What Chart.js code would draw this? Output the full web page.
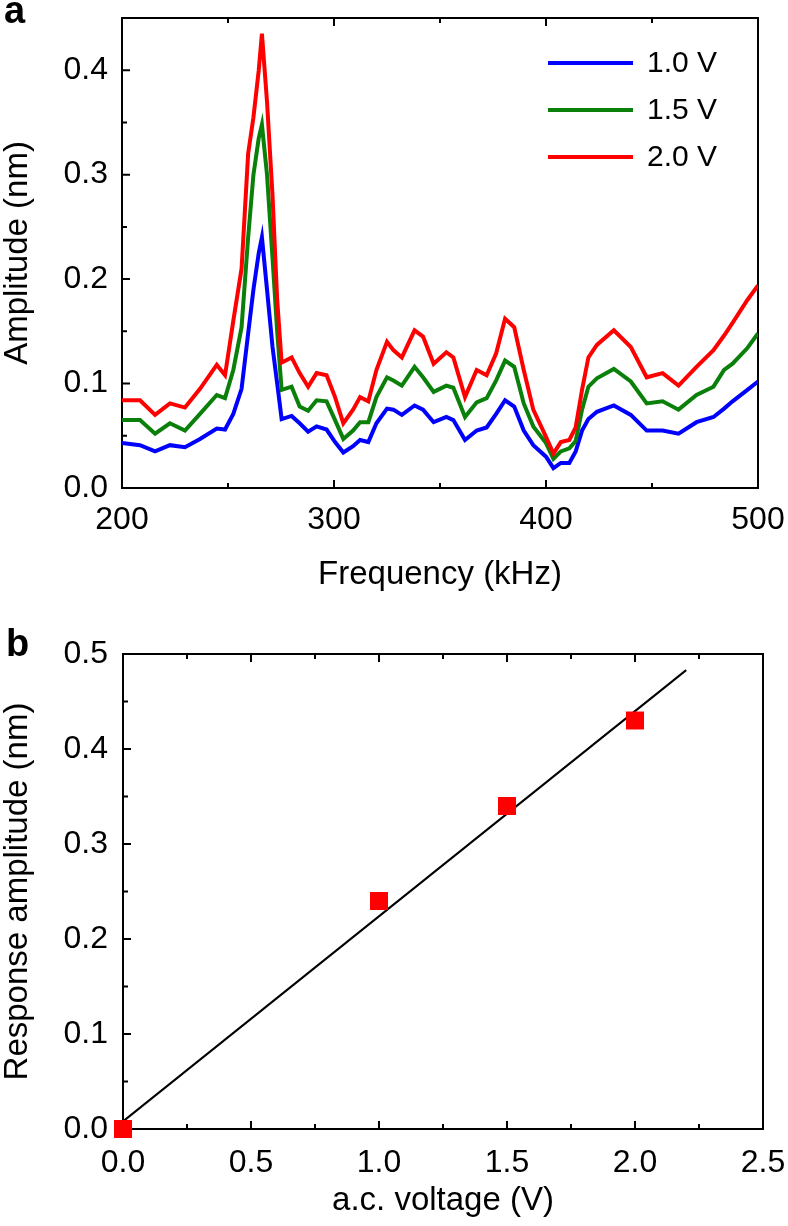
<!DOCTYPE html>
<html>
<head>
<meta charset="utf-8">
<script src="https://cdn.jsdelivr.net/npm/chart.js@4.4.0/dist/chart.umd.min.js"></script>
<style>
  body { margin: 0; background: #fff; width: 788px; height: 1226px; position: relative; overflow: hidden;
         font-family: "Liberation Sans", Arial, Helvetica, sans-serif; }
  .box { position: absolute; left: 0; width: 788px; }
  .tag { position: absolute; font-weight: bold; font-size: 38px; line-height: 38px; color: #000; }
</style>
</head>
<body>
<div class="box" style="top:0;height:600px"><canvas id="chartA" width="788" height="600"></canvas></div>
<div class="box" style="top:620px;height:606px"><canvas id="chartB" width="788" height="606"></canvas></div>
<div class="tag" style="left:4px;top:-9px">a</div>
<div class="tag" style="left:6px;top:624px">b</div>
<script>
// panel a: amplitude spectra
const freq = [200, 208.5, 215.6, 222.6, 229.7, 236.8, 244.7, 248.6, 252.5, 256.4, 259.5, 262, 264.5, 266, 268.4, 271, 273.2, 275.3,
  280, 283.8, 287.8, 291.8, 296.5, 300.5, 304.4, 309, 312.3, 316.2, 320, 325, 328, 332, 338, 342, 347, 353, 356.3, 361.8,
  367.3, 372, 376.5, 380.7, 385, 389.5, 394, 400, 403.5, 407, 411, 414, 417, 420, 424, 432, 440, 447.5, 455, 462.5,
  471, 479, 484, 488, 495, 500];
const amp10 = [0.043, 0.041, 0.035, 0.041, 0.039, 0.047, 0.057, 0.056, 0.071, 0.095, 0.148, 0.19, 0.225, 0.24, 0.19, 0.135, 0.10, 0.066,
  0.069, 0.062, 0.054, 0.059, 0.056, 0.044, 0.034, 0.040, 0.046, 0.044, 0.062, 0.076, 0.075, 0.070, 0.079, 0.075, 0.063, 0.068, 0.065, 0.046,
  0.055, 0.058, 0.071, 0.084, 0.078, 0.055, 0.041, 0.030, 0.019, 0.024, 0.024, 0.035, 0.055, 0.066, 0.073, 0.079, 0.070, 0.055, 0.055, 0.052,
  0.063, 0.068, 0.076, 0.083, 0.094, 0.102];
const amp15 = [0.065, 0.065, 0.052, 0.062, 0.055, 0.071, 0.089, 0.086, 0.113, 0.154, 0.24, 0.30, 0.335, 0.348, 0.30, 0.22, 0.15, 0.094,
  0.097, 0.078, 0.074, 0.084, 0.083, 0.065, 0.047, 0.055, 0.063, 0.063, 0.087, 0.106, 0.103, 0.098, 0.116, 0.106, 0.092, 0.098, 0.096, 0.068,
  0.082, 0.086, 0.103, 0.122, 0.116, 0.081, 0.059, 0.043, 0.028, 0.035, 0.038, 0.045, 0.075, 0.097, 0.105, 0.114, 0.102, 0.081, 0.083, 0.075,
  0.089, 0.097, 0.113, 0.119, 0.134, 0.148];
const amp20 = [0.084, 0.084, 0.070, 0.081, 0.077, 0.095, 0.118, 0.108, 0.16, 0.21, 0.32, 0.355, 0.40, 0.435, 0.37, 0.28, 0.18, 0.12,
  0.125, 0.11, 0.097, 0.11, 0.108, 0.087, 0.062, 0.075, 0.087, 0.083, 0.113, 0.14, 0.132, 0.125, 0.151, 0.145, 0.119, 0.130, 0.125, 0.087,
  0.113, 0.108, 0.129, 0.162, 0.154, 0.113, 0.075, 0.049, 0.033, 0.044, 0.046, 0.058, 0.094, 0.125, 0.137, 0.151, 0.135, 0.106, 0.11, 0.098,
  0.116, 0.132, 0.146, 0.158, 0.18, 0.194];
const seriesLabels = ['1.0 V', '1.5 V', '2.0 V'];
const seriesColors = ['#0000ff', '#0a7f0a', '#ff0000'];

// panel b: response vs voltage
const voltage = [0, 1.0, 1.5, 2.0];
const response = [0, 0.24, 0.34, 0.43];
const fitVoltage = [0, 2.2];
const fitResponse = [0.008, 0.483];

Chart.defaults.font.family = '"Liberation Sans", Arial, Helvetica, sans-serif';
Chart.defaults.color = '#000';

function toPoints(xs, ys) {
  return xs.map((x, i) => ({ x: x, y: ys[i] }));
}

// box around the plot with inward ticks on bottom, top and left
const framePlugin = {
  id: 'frame',
  beforeDatasetsDraw(chart, args, opts) {
    const ctx = chart.ctx;
    const a = chart.chartArea;
    const x = chart.scales.x, y = chart.scales.y;
    ctx.save();
    ctx.strokeStyle = '#000';
    ctx.lineWidth = 2;
    ctx.strokeRect(a.left, a.top, a.right - a.left, a.bottom - a.top);
    ctx.beginPath();
    let n = Math.round((x.max - x.min) / opts.xMinor);
    for (let i = 0; i <= n; i++) {
      const px = x.getPixelForValue(x.min + i * opts.xMinor);
      const len = i % 2 === 0 ? 8 : 5;
      ctx.moveTo(px, a.bottom); ctx.lineTo(px, a.bottom - len);
      ctx.moveTo(px, a.top); ctx.lineTo(px, a.top + len);
    }
    n = Math.round((y.max - y.min) / opts.yMinor);
    for (let i = 0; i <= n; i++) {
      const py = y.getPixelForValue(y.min + i * opts.yMinor);
      const len = i % 2 === 0 ? 8 : 5;
      ctx.moveTo(a.left, py); ctx.lineTo(a.left + len, py);
    }
    ctx.stroke();
    ctx.restore();
  }
};

// legend with line samples inside the plot
const lineLegend = {
  id: 'lineLegend',
  afterDraw(chart, args, opts) {
    if (!opts.show) return;
    const ctx = chart.ctx;
    const a = chart.chartArea;
    ctx.save();
    ctx.font = '30px "Liberation Sans", Arial, sans-serif';
    ctx.textBaseline = 'middle';
    ctx.fillStyle = '#000';
    chart.data.datasets.forEach((ds, i) => {
      const yy = a.top + opts.y + i * opts.gap;
      const x0 = a.left + opts.x;
      ctx.strokeStyle = ds.borderColor;
      ctx.lineWidth = 4;
      ctx.beginPath();
      ctx.moveTo(x0, yy); ctx.lineTo(x0 + opts.len, yy);
      ctx.stroke();
      ctx.fillText(ds.label, x0 + opts.len + 14, yy + 1);
    });
    ctx.restore();
  }
};

function keepTenths(scale) {
  scale.ticks = scale.ticks.filter(t => Math.abs(t.value * 10 - Math.round(t.value * 10)) < 1e-6);
}

const ampSets = [amp10, amp15, amp20];
const chartA = new Chart(document.getElementById('chartA'), {
  type: 'line',
  data: {
    datasets: ampSets.map((arr, i) => ({
      label: seriesLabels[i],
      data: toPoints(freq, arr),
      borderColor: seriesColors[i],
      borderWidth: 4,
      pointRadius: 0,
      tension: 0,
      order: 3 - i
    }))
  },
  options: {
    responsive: false,
    animation: false,
    layout: { padding: { top: 18, right: 30, bottom: 0, left: 0 } },
    plugins: {
      legend: { display: false },
      tooltip: { enabled: false },
      frame: { xMinor: 50, yMinor: 0.05 },
      lineLegend: { show: true, x: 426, y: 45, gap: 47, len: 85 }
    },
    scales: {
      x: {
        type: 'linear', min: 200, max: 500,
        border: { display: false },
        grid: { display: false, drawTicks: false },
        ticks: { stepSize: 100, padding: 13, font: { size: 32 }, maxRotation: 0, autoSkip: false },
        title: { display: true, text: 'Frequency (kHz)', font: { size: 33 }, padding: { top: 0, bottom: 5 } },
        afterFit(s) { s.height = 112; s.paddingLeft = 0; s.paddingRight = 0; }
      },
      y: {
        min: 0, max: 0.45,
        border: { display: false },
        grid: { display: false, drawTicks: false },
        afterBuildTicks: keepTenths,
        ticks: { stepSize: 0.1, padding: 14, font: { size: 32 }, callback: v => v.toFixed(1) },
        title: { display: true, text: 'Amplitude (nm)', font: { size: 33 }, padding: { top: -2, bottom: 0 } },
        afterFit(s) { s.width = 122; s.paddingTop = 0; s.paddingBottom = 0; }
      }
    }
  },
  plugins: [framePlugin, lineLegend]
});

const chartB = new Chart(document.getElementById('chartB'), {
  type: 'scatter',
  data: {
    datasets: [{
      label: 'Data',
      data: toPoints(voltage, response),
      pointStyle: 'rect',
      pointRadius: 12.7,
      pointHoverRadius: 12.7,
      backgroundColor: '#ff0000',
      borderWidth: 0,
      clip: false,
      order: 1
    }, {
      type: 'line',
      label: 'Fit',
      data: toPoints(fitVoltage, fitResponse),
      borderColor: '#000',
      borderWidth: 2,
      pointRadius: 0,
      showLine: true,
      order: 2
    }]
  },
  options: {
    responsive: false,
    animation: false,
    layout: { padding: { top: 34, right: 25, bottom: 0, left: 0 } },
    plugins: {
      legend: { display: false },
      tooltip: { enabled: false },
      frame: { xMinor: 0.25, yMinor: 0.05 },
      lineLegend: { show: false }
    },
    scales: {
      x: {
        type: 'linear', min: 0, max: 2.5,
        border: { display: false },
        grid: { display: false, drawTicks: false },
        ticks: { stepSize: 0.5, padding: 15, font: { size: 32 }, maxRotation: 0, autoSkip: false, callback: v => v.toFixed(1) },
        title: { display: true, text: 'a.c. voltage (V)', font: { size: 33 }, padding: { top: 0, bottom: 5 } },
        afterFit(s) { s.height = 97; s.paddingLeft = 0; s.paddingRight = 0; }
      },
      y: {
        min: 0, max: 0.5,
        border: { display: false },
        grid: { display: false, drawTicks: false },
        afterBuildTicks: keepTenths,
        ticks: { stepSize: 0.1, padding: 15, font: { size: 32 }, callback: v => v.toFixed(1) },
        title: { display: true, text: 'Response amplitude (nm)', font: { size: 33 }, padding: { top: -2, bottom: 0 } },
        afterFit(s) { s.width = 123; s.paddingTop = 0; s.paddingBottom = 0; }
      }
    }
  },
  plugins: [framePlugin, lineLegend]
});
</script>
</body>
</html>
